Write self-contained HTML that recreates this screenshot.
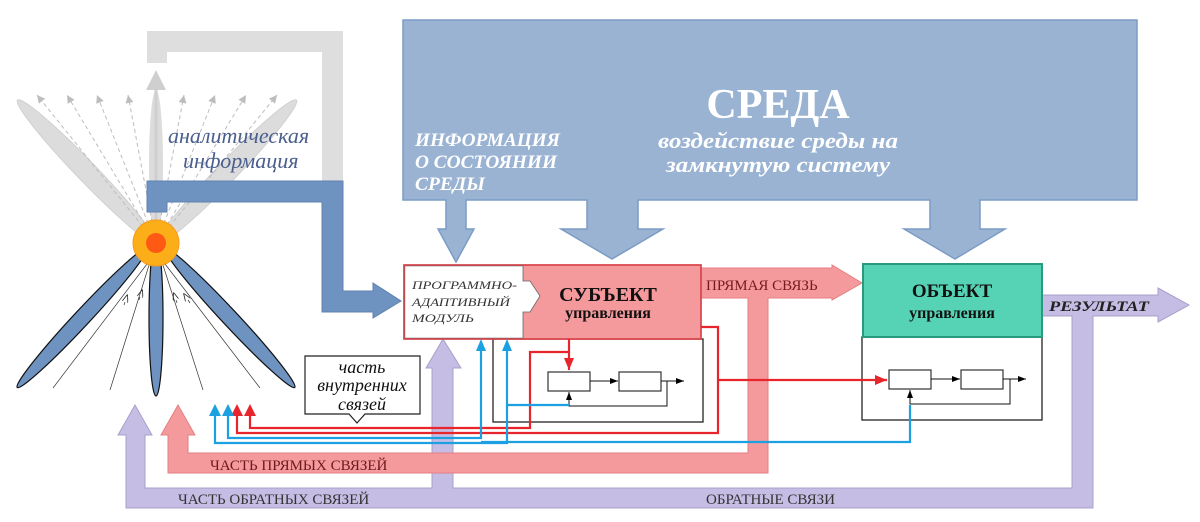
<!DOCTYPE html>
<html><head><meta charset="utf-8"><style>
html,body{margin:0;padding:0;background:#fff;}
svg{display:block;}
text{font-family:"Liberation Serif","DejaVu Serif",serif;}
</style></head><body>
<svg width="1200" height="522" viewBox="0 0 1200 522" xmlns="http://www.w3.org/2000/svg">
<defs>
<marker id="ab" markerWidth="8" markerHeight="6" refX="8" refY="3" orient="auto" markerUnits="userSpaceOnUse"><path d="M0,0 L8,3 L0,6 z" fill="#000"/></marker>
<marker id="ar" markerWidth="12" markerHeight="10" refX="12" refY="5" orient="auto" markerUnits="userSpaceOnUse"><path d="M0,0 L12,5 L0,10 z" fill="#e8252b"/></marker>
<marker id="ag" markerWidth="8" markerHeight="8" refX="8" refY="4" orient="auto" markerUnits="userSpaceOnUse"><path d="M0,0 L8,4 L0,8 z" fill="#bdbdbd"/></marker>
<marker id="at" markerWidth="8" markerHeight="6" refX="0" refY="3" orient="auto" markerUnits="userSpaceOnUse"><path d="M0,0 L8,3 L0,6" fill="none" stroke="#222" stroke-width="0.8"/></marker>
</defs>

<!-- grey bracket -->
<path d="M147,63 L147,31 L343,31 L343,181 L322,181 L322,52 L167,52 L167,63 Z" fill="#dedede"/>
<!-- grey leaves -->
<ellipse cx="87" cy="172" rx="10" ry="100" transform="rotate(-44 87 172)" fill="#dcdcdc" stroke="#d0d0d0"/>
<ellipse cx="227" cy="172" rx="10" ry="100" transform="rotate(44 227 172)" fill="#dcdcdc" stroke="#d0d0d0"/>
<ellipse cx="156" cy="165" rx="7" ry="75" fill="#dcdcdc"/>
<path d="M156,230 L156,88" stroke="#cfcfcf" stroke-width="3"/>
<path d="M146,90 L156,70 L166,90 Z" fill="#cfcfcf"/>
<g stroke="#bdbdbd" stroke-width="1" stroke-dasharray="4,3" fill="none">
<line x1="156" y1="243" x2="37" y2="95" marker-end="url(#ag)"/>
<line x1="156" y1="243" x2="67" y2="95" marker-end="url(#ag)"/>
<line x1="156" y1="243" x2="97" y2="95" marker-end="url(#ag)"/>
<line x1="156" y1="243" x2="128" y2="95" marker-end="url(#ag)"/>
<line x1="156" y1="243" x2="184" y2="95" marker-end="url(#ag)"/>
<line x1="156" y1="243" x2="215" y2="95" marker-end="url(#ag)"/>
<line x1="156" y1="243" x2="246" y2="95" marker-end="url(#ag)"/>
<line x1="156" y1="243" x2="277" y2="95" marker-end="url(#ag)"/>
</g>
<!-- blue bracket / arrow -->
<path d="M147,212 L147,181 L343,181 L343,291 L373,291 L373,283 L401,301 L373,318 L373,312 L322,312 L322,202 L167,202 L167,212 Z" fill="#6f93c0" stroke="#5f82b0" stroke-width="1"/>
<text x="168" y="143" font-size="22" font-style="italic" fill="#4a5f8e">аналитическая</text>
<text x="183" y="168" font-size="22" font-style="italic" fill="#4a5f8e">информация</text>

<!-- blue leaves -->
<ellipse cx="82" cy="318" rx="8" ry="95" transform="rotate(43 82 318)" fill="#6f93c0" stroke="#111" stroke-width="1.2"/>
<ellipse cx="230" cy="318" rx="8" ry="95" transform="rotate(-43 230 318)" fill="#6f93c0" stroke="#111" stroke-width="1.2"/>
<ellipse cx="156" cy="318" rx="7" ry="78" fill="#6f93c0" stroke="#111" stroke-width="1.2"/>
<g stroke="#333" stroke-width="0.7" fill="none">
<line x1="53" y1="388" x2="150" y2="260"/><line x1="110" y1="390" x2="150" y2="262"/>
<line x1="203" y1="390" x2="162" y2="262"/><line x1="260" y1="388" x2="162" y2="260"/>
<line x1="124" y1="305" x2="125" y2="302" marker-end="url(#at)"/>
<line x1="139" y1="300" x2="140" y2="297" marker-end="url(#at)"/>
<line x1="177" y1="303" x2="176" y2="300" marker-end="url(#at)"/>
<line x1="190" y1="303" x2="188" y2="300" marker-end="url(#at)"/>
</g>
<circle cx="156" cy="243" r="23" fill="#fbae17" stroke="#f59a20" stroke-width="1"/>
<circle cx="156" cy="243" r="10" fill="#ff5a14"/>

<!-- environment -->
<path d="M403,20 L1137,20 L1137,200 L980,200 L980,229 L1005,229 L955,259 L904,229 L930,229 L930,200 L638,200 L638,229 L663,229 L612,259 L561,229 L587,229 L587,200 L466,200 L466,229 L474,229 L456,262 L438,229 L446,229 L446,200 L403,200 Z" fill="#9ab3d3" stroke="#7b9cc6" stroke-width="1.5"/>
<text x="778" y="118" font-size="42" font-weight="bold" fill="#fff" text-anchor="middle">СРЕДА</text>
<text x="778" y="148" font-size="22" font-weight="bold" font-style="italic" fill="#fff" text-anchor="middle" textLength="240" lengthAdjust="spacingAndGlyphs">воздействие среды на</text>
<text x="778" y="172" font-size="22" font-weight="bold" font-style="italic" fill="#fff" text-anchor="middle" textLength="224" lengthAdjust="spacingAndGlyphs">замкнутую систему</text>
<g font-size="19" font-weight="bold" font-style="italic" fill="#fff">
<text x="415" y="146" textLength="145" lengthAdjust="spacingAndGlyphs">ИНФОРМАЦИЯ</text>
<text x="415" y="168" textLength="142" lengthAdjust="spacingAndGlyphs">О СОСТОЯНИИ</text>
<text x="415" y="190" textLength="70" lengthAdjust="spacingAndGlyphs">СРЕДЫ</text>
</g>

<!-- purple feedback -->
<path d="M1042,295 L1158,295 L1158,288 L1189,305 L1158,322 L1158,316 L1093,316 L1093,508 L126,508 L126,435 L118,435 L135,405 L152,435 L145,435 L145,488 L432,488 L432,368 L426,368 L443,339 L461,368 L453,368 L453,488 L1072,488 L1072,316 L1042,316 Z" fill="#c5bde3" stroke="#a9a0cc" stroke-width="1"/>
<text x="1049" y="311" font-size="15" font-weight="bold" font-style="italic" fill="#222" textLength="100" lengthAdjust="spacingAndGlyphs">РЕЗУЛЬТАТ</text>
<text x="178" y="504" font-size="15" fill="#333">ЧАСТЬ ОБРАТНЫХ СВЯЗЕЙ</text>
<text x="706" y="504" font-size="15" fill="#333">ОБРАТНЫЕ СВЯЗИ</text>

<!-- pink forward -->
<path d="M701,268 L832,268 L832,265 L862,283 L832,300 L832,298 L768,298 L768,473 L168,473 L168,435 L161,435 L178,405 L195,435 L188,435 L188,453 L748,453 L748,298 L701,298 Z" fill="#f4999c" stroke="#e57f83" stroke-width="1"/>
<text x="706" y="290" font-size="15" fill="#7a1a1e">ПРЯМАЯ СВЯЗЬ</text>
<text x="210" y="470" font-size="15" fill="#6b1a1e">ЧАСТЬ ПРЯМЫХ СВЯЗЕЙ</text>

<!-- subject -->
<rect x="493" y="339" width="210" height="83" fill="none" stroke="#222" stroke-width="1.3"/>
<rect x="404" y="265" width="297" height="74" fill="#f4999c" stroke="#d9464d" stroke-width="1.5"/>
<path d="M404.8,265.8 L523,265.8 L523,281 L530,281 L540,296 L530,312 L523,312 L523,338.2 L404.8,338.2 Z" fill="#fff" stroke="#666" stroke-width="0.8"/>
<rect x="404" y="265" width="297" height="74" fill="none" stroke="#d9464d" stroke-width="1.5"/>
<g font-size="12" font-style="italic" fill="#333">
<text x="412" y="289" textLength="105" lengthAdjust="spacingAndGlyphs">ПРОГРАММНО-</text>
<text x="412" y="306" textLength="98" lengthAdjust="spacingAndGlyphs">АДАПТИВНЫЙ</text>
<text x="412" y="322" textLength="62" lengthAdjust="spacingAndGlyphs">МОДУЛЬ</text>
</g>
<text x="608" y="301" font-size="20" font-weight="bold" fill="#111" text-anchor="middle">СУБЪЕКТ</text>
<text x="608" y="318" font-size="16" font-weight="bold" fill="#111" text-anchor="middle">управления</text>
<rect x="548" y="372" width="42" height="19" fill="#fff" stroke="#333" stroke-width="1.2"/>
<rect x="619" y="372" width="42" height="19" fill="#fff" stroke="#333" stroke-width="1.2"/>
<g stroke="#111" stroke-width="1" fill="none">
<line x1="590" y1="381" x2="618" y2="381" marker-end="url(#ab)"/>
<line x1="661" y1="381" x2="684" y2="381" marker-end="url(#ab)"/>
<path d="M667,381 L667,406 L569,406 L569,392" marker-end="url(#ab)"/>
</g>

<!-- object -->
<rect x="862" y="337" width="180" height="83" fill="#fff" stroke="#222" stroke-width="1.3"/>
<rect x="863" y="264" width="179" height="73" fill="#56d3b5" stroke="#2a9a7e" stroke-width="2"/>
<text x="952" y="297" font-size="19" font-weight="bold" fill="#111" text-anchor="middle">ОБЪЕКТ</text>
<text x="952" y="318" font-size="16" font-weight="bold" fill="#111" text-anchor="middle">управления</text>
<rect x="889" y="370" width="42" height="19" fill="#fff" stroke="#333" stroke-width="1.2"/>
<rect x="961" y="370" width="42" height="19" fill="#fff" stroke="#333" stroke-width="1.2"/>
<g stroke="#111" stroke-width="1" fill="none">
<line x1="931" y1="379" x2="960" y2="379" marker-end="url(#ab)"/>
<line x1="1003" y1="379" x2="1026" y2="379" marker-end="url(#ab)"/>
<path d="M1010,379 L1010,404 L910,404 L910,390" marker-end="url(#ab)"/>
</g>

<!-- red/blue signal lines -->
<g fill="none" stroke-width="2.2">
<path d="M250,415 L250,428 L530,428 L530,352 L569,352" stroke="#e8252b"/>
<path d="M569,339 L569,370" stroke="#e8252b" marker-end="url(#ar)"/>
<path d="M237,415 L237,433 L718,433 L718,327 L701,327" stroke="#e8252b"/>
<path d="M718,380 L887,380" stroke="#e8252b" marker-end="url(#ar)"/>
<path d="M228,415 L228,438 L481,438 L481,350" stroke="#1ba1e2"/>
<path d="M215,415 L215,443 L507,443 L507,350" stroke="#1ba1e2"/>
<path d="M507,405 L569,405" stroke="#1ba1e2"/>
<path d="M481,442 L910,442 L910,405" stroke="#1ba1e2"/>
</g>
<g>
<path d="M244,416 L250,404 L256,416 Z" fill="#e8252b"/>
<path d="M231,416 L237,404 L243,416 Z" fill="#e8252b"/>
<path d="M222,416 L228,404 L234,416 Z" fill="#1ba1e2"/>
<path d="M209,416 L215,404 L221,416 Z" fill="#1ba1e2"/>
<path d="M476,351 L481,339 L486,351 Z" fill="#1ba1e2"/>
<path d="M502,351 L507,339 L512,351 Z" fill="#1ba1e2"/>
</g>

<!-- callout -->
<path d="M305,356 L420,356 L420,414 L365,414 L357,423 L349,414 L305,414 Z" fill="#fff" stroke="#222" stroke-width="1.2"/>
<g font-size="18" font-style="italic" fill="#111" text-anchor="middle">
<text x="362" y="373">часть</text>
<text x="362" y="391">внутренних</text>
<text x="362" y="410">связей</text>
</g>
</svg>
</body></html>
